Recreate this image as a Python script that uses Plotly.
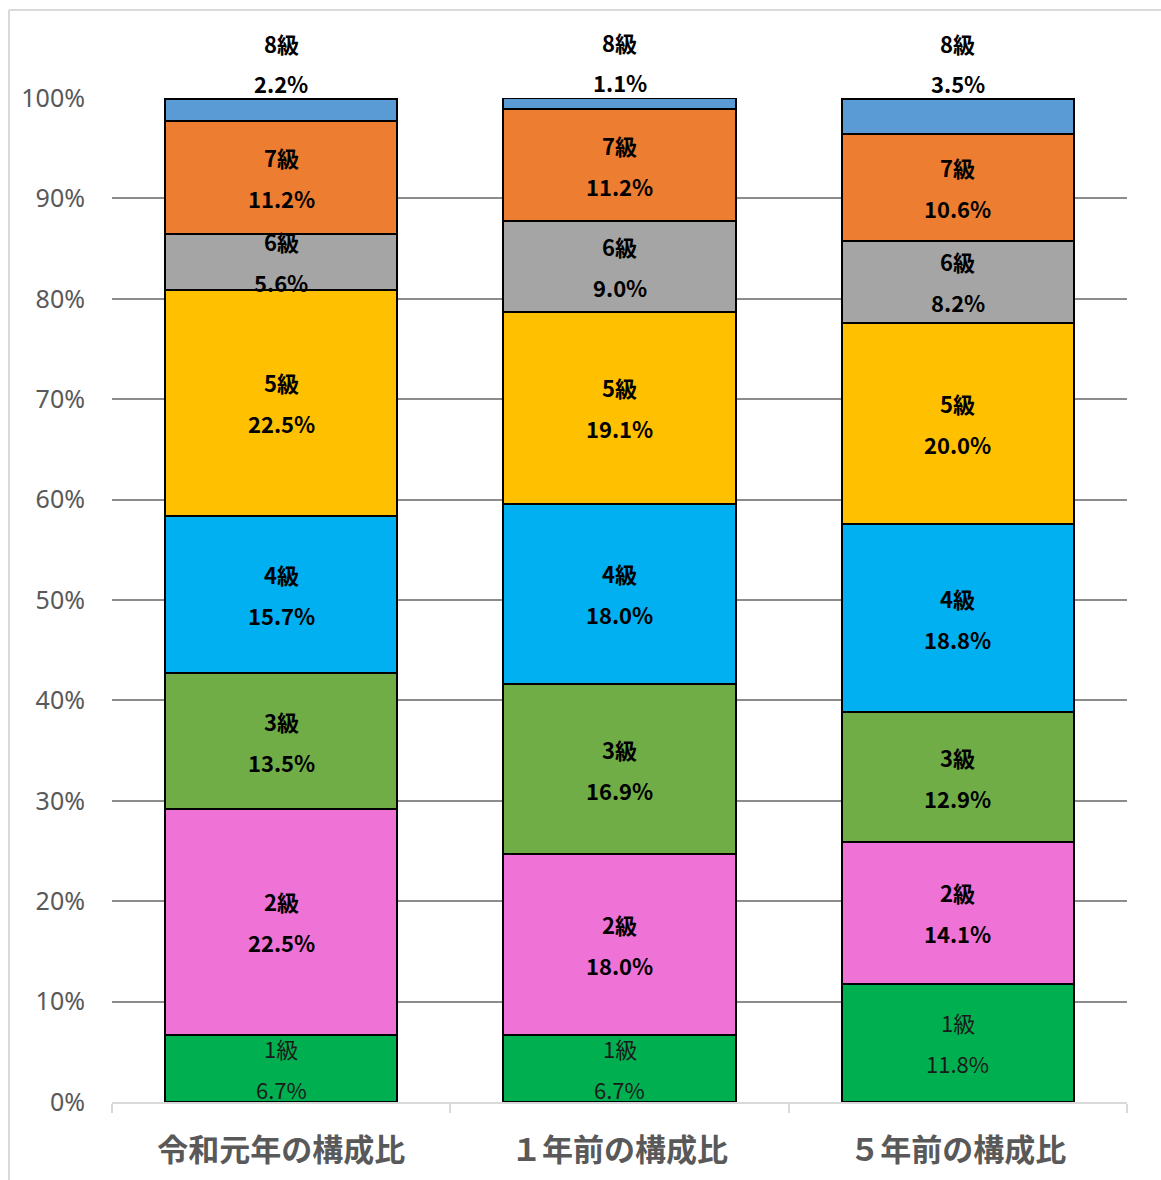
import plotly.graph_objects as go

categories = ["令和元年の構成比", "１年前の構成比", "５年前の構成比"]
grades = ["1級", "2級", "3級", "4級", "5級", "6級", "7級", "8級"]
v1 = [6.7, 6.7, 11.8]
v2 = [22.5, 18.0, 14.1]
v3 = [13.5, 16.9, 12.9]
v4 = [15.7, 18.0, 18.8]
v5 = [22.5, 19.1, 20.0]
v6 = [5.6, 9.0, 8.2]
v7 = [11.2, 11.2, 10.6]
v8 = [2.2, 1.1, 3.5]
series = [v1, v2, v3, v4, v5, v6, v7, v8]
colors = ["#00B050", "#EF72D6", "#70AD47", "#00B0F0", "#FFC000", "#A5A5A5", "#ED7D31", "#5B9BD5"]

FONT = "Noto Sans CJK JP"
fig = go.Figure()
for name, vals, col in zip(grades, series, colors):
    fig.add_trace(go.Bar(
        x=categories, y=vals, name=name,
        marker=dict(color=col, line=dict(color="black", width=2)),
        hoverinfo="skip",
    ))

annotations = []
base = [0.0] * len(categories)
for k, (name, vals) in enumerate(zip(grades, series)):
    last = k == len(series) - 1
    first = k == 0
    for j, c in enumerate(categories):
        v = vals[j]
        if last:
            y = base[j] + v
            s_name, s_val = 56, 16
        else:
            y = base[j] + v / 2
            s_name, s_val = 20.5, -20.5
        fnt = dict(family=FONT, size=22, color="#000000", weight="bold")
        if first:
            fnt = dict(family=FONT, size=22, color="#1a1a1a", weight="normal")
        annotations.append(dict(x=c, y=y, xref="x", yref="y", text=name, showarrow=False,
                                yshift=s_name, font=fnt, yanchor="middle"))
        annotations.append(dict(x=c, y=y, xref="x", yref="y", text=f"{v:.1f}%", showarrow=False,
                                yshift=s_val, font=fnt, yanchor="middle"))
        base[j] += v

# plot area: x 112..1127, y 98..1102
L, R, T, B = 112, 1127, 98, 1102
W, H = R - L, B - T
shapes = [
    dict(type="line", xref="paper", yref="paper",
         x0=(9 - L) / W, x1=(1200 - L) / W, y0=(B - 10) / H, y1=(B - 10) / H,
         line=dict(color="#D9D9D9", width=2)),
    dict(type="line", xref="paper", yref="paper",
         x0=(9 - L) / W, x1=(9 - L) / W, y0=(B - 10) / H, y1=(B - 1200) / H,
         line=dict(color="#D9D9D9", width=2)),
]

fig.update_layout(
    width=1161, height=1180,
    margin=dict(l=L, r=1161 - R, t=T, b=1180 - B),
    barmode="stack", bargap=0.314,
    plot_bgcolor="white", paper_bgcolor="white",
    showlegend=False,
    annotations=annotations, shapes=shapes,
    font=dict(family=FONT),
)
fig.update_xaxes(
    showline=True, linecolor="#D9D9D9", linewidth=2,
    ticks="outside", tickson="boundaries", ticklen=9, tickcolor="#D9D9D9", tickwidth=2,
    tickfont=dict(family=FONT, size=31, color="#595959", weight="bold"),
    ticklabelstandoff=20, automargin=False,
    showgrid=False,
)
fig.update_yaxes(
    range=[0, 100], dtick=10, ticksuffix="%",
    showgrid=True, gridcolor="#8C8C8C", gridwidth=2,
    zeroline=False, showline=False, automargin=False,
    tickfont=dict(family="Noto Sans", size=25, color="#595959"),
    ticklabelstandoff=26,
)
fig.write_html("out.html")
